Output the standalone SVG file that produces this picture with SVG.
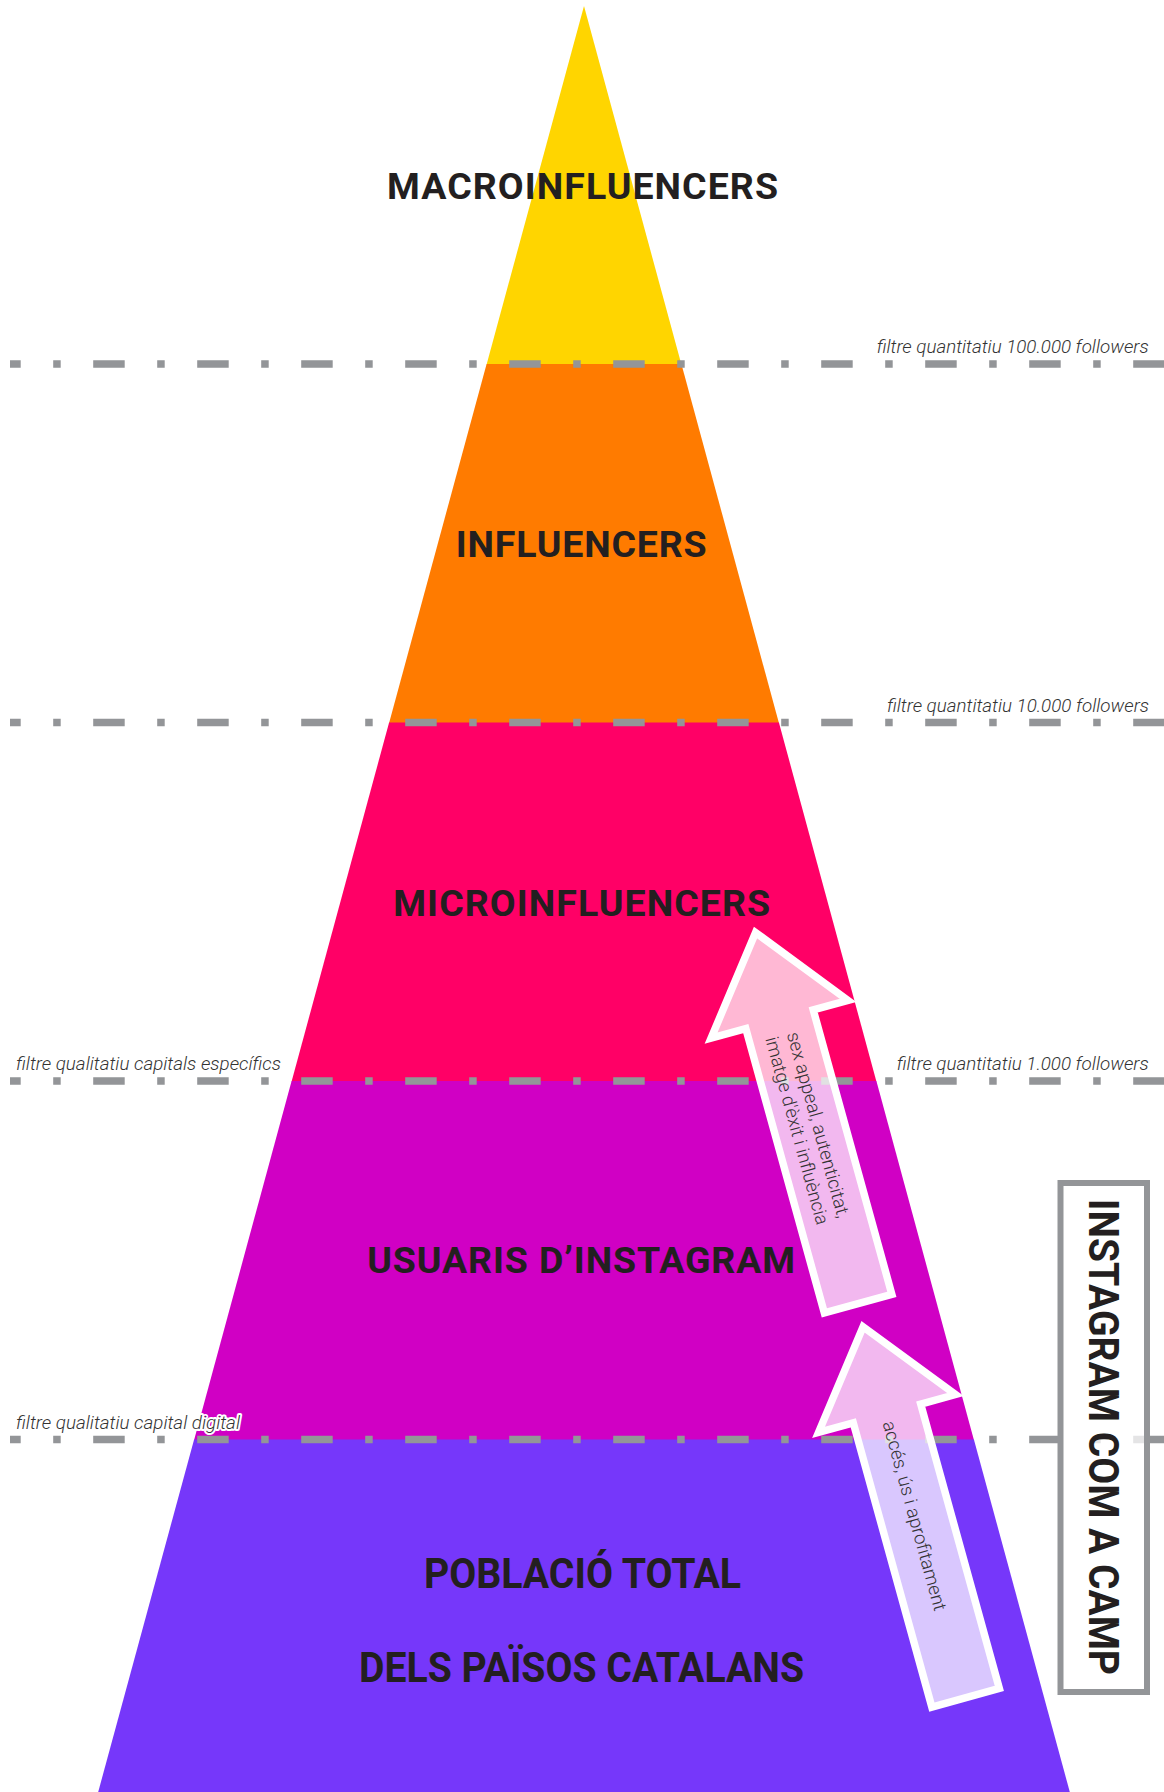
<svg xmlns="http://www.w3.org/2000/svg" width="1164" height="1792" viewBox="0 0 1164 1792">
<style>
.lvl{font-family:Roboto,"Liberation Sans",sans-serif;font-weight:700;font-size:37.5px;fill:#231f20;text-anchor:middle}
.cond{font-family:Roboto,"Liberation Sans",sans-serif;font-weight:700;font-size:42px;fill:#231f20;text-anchor:middle}
.flt{font-family:Roboto,"Liberation Sans",sans-serif;font-weight:300;font-style:italic;font-size:18.5px;fill:#333}
.halo{stroke:#fff;stroke-width:4px;paint-order:stroke;stroke-linejoin:round}
.dash{stroke:#939598;stroke-width:7.5;fill:none;stroke-dasharray:31.5 32.5 7.5 32.5;stroke-dashoffset:20.8}
.arrow{fill:#fff;fill-opacity:0.72;stroke:#fff;stroke-width:7.5;stroke-linejoin:miter;stroke-miterlimit:10}
.atxt{font-family:Roboto,"Liberation Sans",sans-serif;font-weight:300;font-size:18.5px;fill:#333;text-anchor:middle}
</style>
<defs>
<polygon id="arrowShape" points="-35,0 35,0 35,-295 71,-295 0,-385 -71,-295 -35,-295"/>
</defs>
<rect width="1164" height="1792" fill="#fff"/>
<g id="pyramid">
<g id="n-macro"><polygon points="584,6 681.4,364.5 486.6,364.5" fill="#ffd500"/></g>
<g id="n-influencers"><polygon points="486.6,364 681.4,364 778.9,723 389.1,723" fill="#ff7b00"/></g>
<g id="n-micro"><polygon points="389.1,722.5 778.9,722.5 876.4,1081.5 291.6,1081.5" fill="#ff0066"/></g>
<g id="n-usuaris"><polygon points="291.6,1081 876.4,1081 973.9,1440 194.1,1440" fill="#d000c4"/></g>
<g id="n-poblacio"><polygon points="194.1,1439.5 973.9,1439.5 1069.8,1792 98.2,1792" fill="#7637fa"/></g>
</g>
<g id="filters">
<line class="dash" x1="10" y1="364" x2="1164" y2="364"/>
<line class="dash" x1="10" y1="722.5" x2="1164" y2="722.5"/>
<line class="dash" x1="10" y1="1081" x2="1164" y2="1081"/>
<line class="dash" x1="10" y1="1439.5" x2="1164" y2="1439.5"/>
<text class="flt" x="876.7" y="353" textLength="272" lengthAdjust="spacingAndGlyphs">filtre quantitatiu 100.000 followers</text>
<text class="flt" x="887" y="711.5" textLength="262" lengthAdjust="spacingAndGlyphs">filtre quantitatiu 10.000 followers</text>
<text class="flt" x="896.7" y="1070" textLength="252" lengthAdjust="spacingAndGlyphs">filtre quantitatiu 1.000 followers</text>
<text class="flt" x="16" y="1070" textLength="265" lengthAdjust="spacingAndGlyphs">filtre qualitatiu capitals específics</text>
<text class="flt halo" x="16" y="1428.5" textLength="224" lengthAdjust="spacingAndGlyphs">filtre qualitatiu capital digital</text>
</g>
<g id="labels">
<text class="lvl" x="582.5" y="199.3" textLength="391" lengthAdjust="spacing">MACROINFLUENCERS</text>
<text class="lvl" x="581.2" y="557.3" textLength="251" lengthAdjust="spacing">INFLUENCERS</text>
<text class="lvl" x="581.7" y="916" textLength="377" lengthAdjust="spacing">MICROINFLUENCERS</text>
<text class="lvl" x="581.2" y="1273.3" textLength="428" lengthAdjust="spacing">USUARIS D’INSTAGRAM</text>
<text class="cond" x="582.5" y="1588" textLength="317" lengthAdjust="spacingAndGlyphs">POBLACIÓ TOTAL</text>
<text class="cond" x="581.5" y="1682" textLength="445" lengthAdjust="spacingAndGlyphs">DELS PAÏSOS CATALANS</text>
</g>
<g id="connectors">
<g id="arrow-upper" transform="translate(858.1,1303.6) rotate(-15.45)">
<use href="#arrowShape" class="arrow"/>
<text class="atxt" transform="translate(-3,-183) rotate(90)"><tspan x="0" y="-6" textLength="192" lengthAdjust="spacingAndGlyphs">sex appeal, autenticitat,</tspan><tspan x="0" y="16" textLength="194" lengthAdjust="spacingAndGlyphs">imatge d'èxit i influència</tspan></text>
</g>
<g id="arrow-lower" transform="translate(965.6,1697.8) rotate(-15.45)">
<use href="#arrowShape" class="arrow"/>
<text class="atxt" transform="translate(-1,-189) rotate(90)" x="0" y="6" textLength="196" lengthAdjust="spacingAndGlyphs">accés, ús i aprofitament</text>
</g>
</g>
<g id="n-camp">
<rect x="1060.5" y="1183" width="86.5" height="509" fill="#fff" fill-opacity="0.75" stroke="#939598" stroke-width="6"/>
<text class="cond" transform="translate(1089,1437) rotate(90)" x="0" y="0" textLength="476" lengthAdjust="spacingAndGlyphs">INSTAGRAM COM A CAMP</text>
</g>
</svg>
